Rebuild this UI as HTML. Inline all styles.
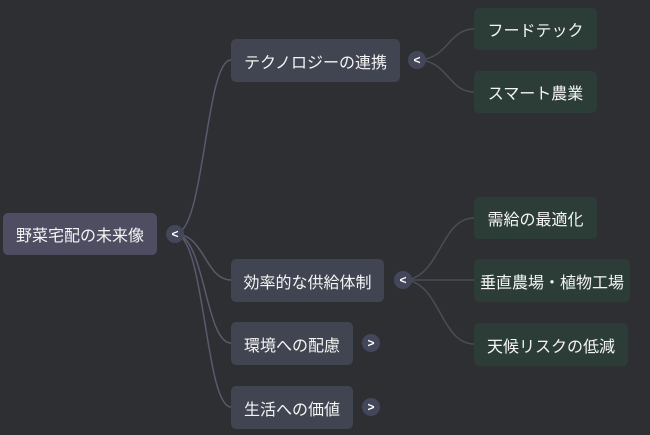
<!DOCTYPE html>
<html><head><meta charset="utf-8"><style>
body{margin:0;width:650px;height:435px;background:#2e2f33;overflow:hidden;font-family:"Liberation Sans","Noto Sans CJK JP",sans-serif;}
.n{position:absolute;color:#f4f4f4;font-size:16px;display:flex;align-items:center;justify-content:center;border-radius:5px;box-sizing:border-box;}
.r{background:#4f4d62}
.a{background:#414551}
.b{background:#2c3c37}
.t{position:absolute;width:18px;height:18px;border-radius:50%;background:#44475a;color:#fff;font-size:12px;font-weight:bold;display:flex;align-items:center;justify-content:center;}
svg{position:absolute;left:0;top:0}
</style></head><body>
<svg width="650" height="435" fill="none" stroke="#5a5a6c" stroke-width="1.5">
<path d="M175 234 C205 234 205 60 231 60"/>
<path d="M175 234 C205 234 205 280 231 280"/>
<path d="M175 234 C205 234 205 343 231 343"/>
<path d="M175 234 C205 234 205 407 231 407"/>
<g stroke="#4a4d57">
<path d="M417 60 C448 60 448 29 474 29"/>
<path d="M417 60 C448 60 448 92 474 92"/>
<path d="M403 280 C440 280 440 218 474 218"/>
<path d="M403 280 L474 280"/>
<path d="M403 280 C440 280 440 344 474 344"/>
</g>
</svg>
<div class="n r" style="left:3px;top:213px;width:154px;height:42px">野菜宅配の未来像</div>
<div class="t" style="left:166px;top:225px">&lt;</div>
<div class="n a" style="left:231px;top:39px;width:169px;height:43px">テクノロジーの連携</div>
<div class="t" style="left:408px;top:51px">&lt;</div>
<div class="n a" style="left:231px;top:259px;width:153px;height:43px">効率的な供給体制</div>
<div class="t" style="left:394px;top:271px">&lt;</div>
<div class="n a" style="left:231px;top:322px;width:122px;height:43px">環境への配慮</div>
<div class="t" style="left:362px;top:334px">&gt;</div>
<div class="n a" style="left:231px;top:386px;width:122px;height:43px">生活への価値</div>
<div class="t" style="left:362px;top:398px">&gt;</div>
<div class="n b" style="left:474px;top:8px;width:123px;height:42px">フードテック</div>
<div class="n b" style="left:474px;top:71px;width:123px;height:42px">スマート農業</div>
<div class="n b" style="left:474px;top:197px;width:123px;height:42px">需給の最適化</div>
<div class="n b" style="left:474px;top:259px;width:156px;height:43px">垂直農場・植物工場</div>
<div class="n b" style="left:474px;top:323px;width:154px;height:43px">天候リスクの低減</div>
</body></html>
